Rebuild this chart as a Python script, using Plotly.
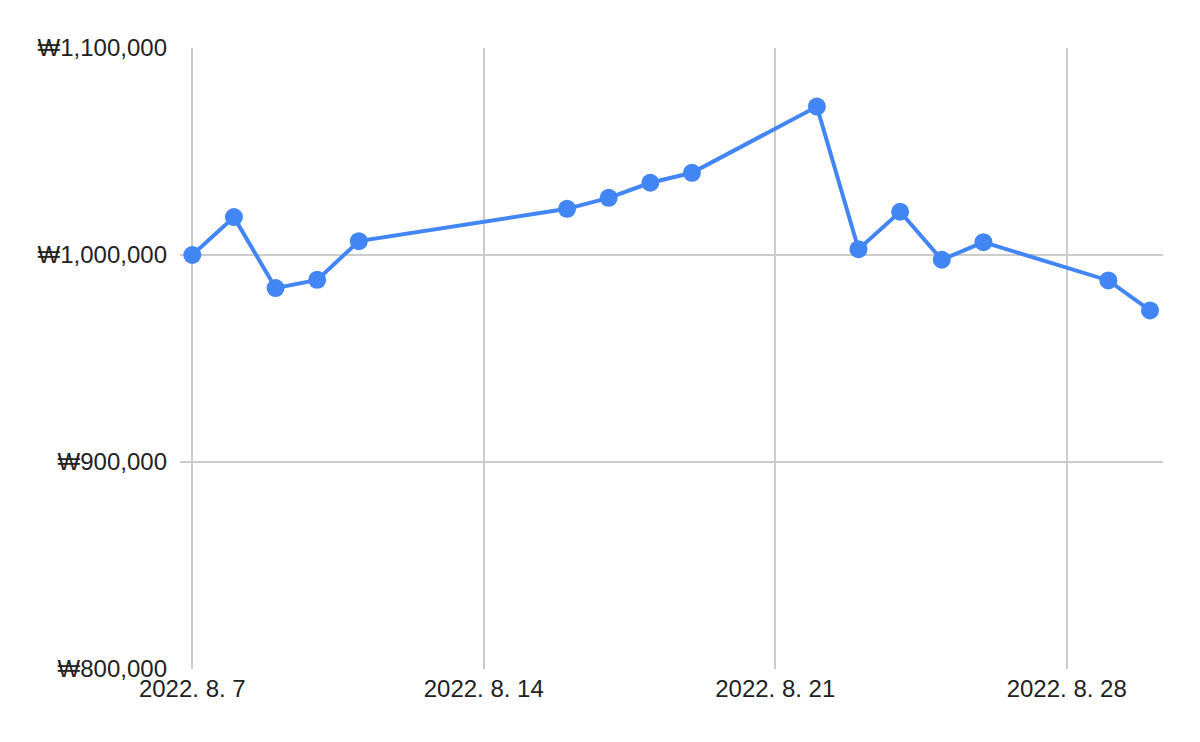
import plotly.graph_objects as go

dates = ["2022-08-07", "2022-08-08", "2022-08-09", "2022-08-10", "2022-08-11",
         "2022-08-16", "2022-08-17", "2022-08-18", "2022-08-19",
         "2022-08-22", "2022-08-23", "2022-08-24", "2022-08-25", "2022-08-26",
         "2022-08-29", "2022-08-30"]
values = [1000000, 1018300, 984000, 988000, 1006700,
          1022300, 1027600, 1034900, 1039700,
          1071700, 1002800, 1020900, 997700, 1006200,
          987700, 973200]

x_tick_vals = ["2022-08-07", "2022-08-14", "2022-08-21", "2022-08-28"]
x_tick_text = ["2022. 8. 7", "2022. 8. 14", "2022. 8. 21", "2022. 8. 28"]
y_tick_vals = [800000, 900000, 1000000, 1100000]
y_tick_text = ["₩800,000", "₩900,000", "₩1,000,000", "₩1,100,000"]

fig = go.Figure()
fig.add_trace(go.Scatter(
    x=dates, y=values, mode="lines+markers",
    line=dict(color="#4285F4", width=4),
    marker=dict(color="#4285F4", size=18),
    hoverinfo="skip",
))

fig.update_layout(
    width=1192, height=734,
    margin=dict(l=172, r=37, t=40, b=73),
    paper_bgcolor="white", plot_bgcolor="white",
    showlegend=False,
    font=dict(family="Liberation Sans, Arial, sans-serif", size=24, color="#222222"),
)
fig.update_xaxes(
    range=["2022-08-06 16:55", "2022-08-30 07:30"],
    tickvals=x_tick_vals, ticktext=x_tick_text,
    showgrid=True, gridcolor="#cccccc", gridwidth=2,
    zeroline=False, showline=False, ticks="",
    ticklabelstandoff=3,
)
fig.update_yaxes(
    range=[800000, 1100000],
    tickvals=y_tick_vals, ticktext=y_tick_text,
    showgrid=True, gridcolor="#cccccc", gridwidth=2,
    zeroline=False, showline=False, ticks="",
    ticklabelstandoff=12,
)

fig.write_html("out.html")
